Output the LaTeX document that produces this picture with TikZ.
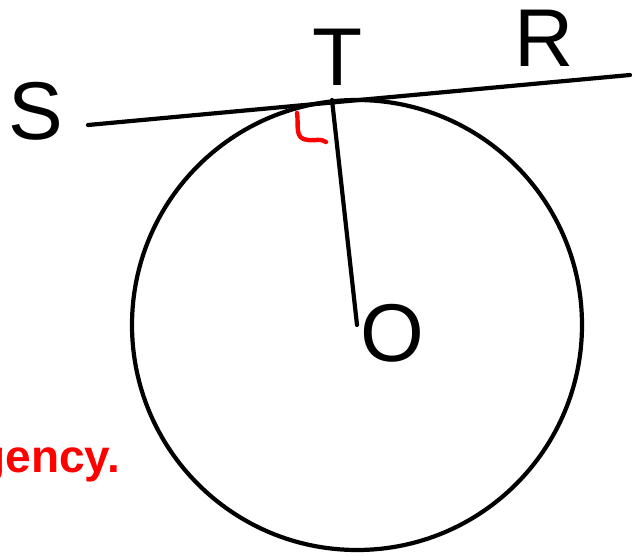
\documentclass[tikz,border=0pt]{standalone}
\usepackage{fontspec}
\setmainfont{Liberation Sans}
\begin{document}
\begin{tikzpicture}[x=1pt,y=-1pt,
  geo/.style={line width=4.2pt,line cap=round},
  lbl/.style={font=\fontsize{82}{90}\selectfont,inner sep=0pt},
  redmark/.style={red,line width=4.4pt,line cap=round,line join=round}]
\useasboundingbox (0,0) rectangle (635,556);
\clip (0,0) rectangle (635,556);
\coordinate (A) at (88,125);
\coordinate (B) at (630,75);
\coordinate (T) at (332,100);
\coordinate (O) at (357,325);
\draw[geo] (O) circle (225);
\draw[geo] (A) -- (B);
\draw[geo] (T) -- (O);
\node[lbl] (lS) at (36,111) {S};
\node[lbl] (lT) at (338,57) {T};
\node[lbl] (lR) at (544,38) {R};
\node[lbl] (lO) at (392,333) {O};
\draw[redmark] (297,113) .. controls (299,126) and (294,139) .. (308,140) .. controls (316,141) and (320,138) .. (326,142);
\node[red,font=\bfseries\fontsize{46}{52}\selectfont,anchor=base east,inner sep=0pt] (txt) at (120,472) {gency.};
\end{tikzpicture}
\end{document}
